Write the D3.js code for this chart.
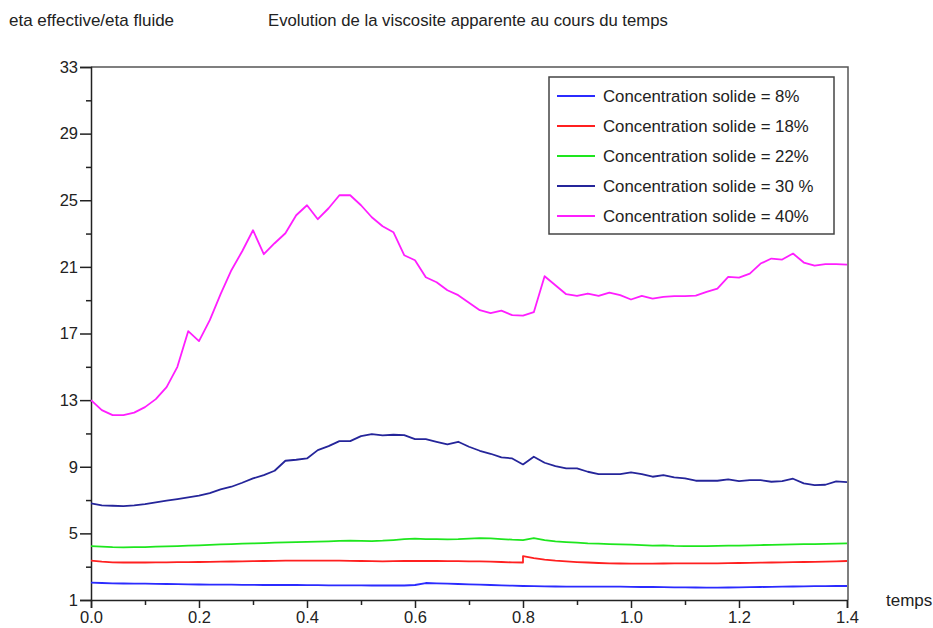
<!DOCTYPE html>
<html>
<head>
<meta charset="utf-8">
<script src="https://cdn.jsdelivr.net/npm/d3@7"></script>
<style>
  html, body { margin: 0; padding: 0; background: #fff; }
  svg text { font-family: "Liberation Sans", Arial, Helvetica, sans-serif; fill: #222; }
</style>
</head>
<body>
<svg id="chart" width="933" height="628"></svg>
<script>
// Time samples (every 0.02 from 0 to 1.4)
const times = d3.range(71).map(i => +(i * 0.02).toFixed(2));

// Apparent viscosity ratio for each solid concentration
const conc8 = [2.04,2.02,2.00,1.99,1.98,1.98,1.97,1.96,1.95,1.94,1.93,1.92,1.92,1.92,1.91,1.91,1.90,1.90,1.90,1.90,1.89,1.89,1.88,1.88,1.88,1.88,1.87,1.87,1.87,1.87,1.90,2.02,2.00,1.98,1.96,1.94,1.92,1.90,1.88,1.86,1.84,1.83,1.82,1.81,1.80,1.80,1.80,1.80,1.80,1.80,1.79,1.78,1.78,1.77,1.76,1.76,1.75,1.74,1.74,1.75,1.76,1.77,1.78,1.79,1.80,1.81,1.82,1.83,1.83,1.84,1.84];

// 18% series has a step at t = 0.8, so 0.8 appears twice in its own time list
const times18 = times.flatMap(t => t === 0.8 ? [t, t] : [t]);
const conc18 = [3.36,3.30,3.26,3.25,3.25,3.25,3.26,3.26,3.27,3.27,3.28,3.29,3.30,3.31,3.32,3.33,3.34,3.35,3.36,3.36,3.36,3.36,3.36,3.36,3.35,3.34,3.33,3.32,3.33,3.34,3.35,3.34,3.34,3.33,3.33,3.32,3.32,3.30,3.28,3.26,3.25,3.64,3.52,3.42,3.36,3.32,3.28,3.25,3.22,3.20,3.19,3.18,3.18,3.18,3.19,3.20,3.20,3.20,3.20,3.20,3.21,3.22,3.23,3.24,3.25,3.26,3.27,3.28,3.29,3.30,3.32,3.34];

const conc22 = [4.24,4.20,4.17,4.16,4.17,4.18,4.20,4.22,4.24,4.26,4.28,4.31,4.34,4.36,4.38,4.40,4.42,4.44,4.46,4.48,4.49,4.50,4.52,4.55,4.56,4.55,4.54,4.56,4.60,4.65,4.68,4.66,4.65,4.64,4.65,4.68,4.72,4.70,4.66,4.62,4.60,4.72,4.60,4.52,4.48,4.44,4.40,4.38,4.36,4.34,4.32,4.30,4.26,4.28,4.25,4.24,4.24,4.24,4.25,4.26,4.27,4.28,4.30,4.31,4.33,4.34,4.35,4.36,4.37,4.38,4.40];

const conc30 = [6.80,6.68,6.66,6.64,6.68,6.76,6.86,6.96,7.06,7.16,7.26,7.42,7.64,7.80,8.04,8.30,8.50,8.76,9.36,9.42,9.50,10.00,10.24,10.54,10.54,10.84,10.96,10.88,10.92,10.90,10.66,10.66,10.50,10.34,10.50,10.20,9.96,9.78,9.56,9.50,9.14,9.60,9.24,9.04,8.90,8.90,8.70,8.56,8.56,8.56,8.66,8.56,8.40,8.50,8.36,8.30,8.16,8.16,8.16,8.24,8.14,8.20,8.20,8.10,8.14,8.28,8.00,7.90,7.92,8.12,8.08];

const conc40 = [13.0,12.4,12.1,12.1,12.25,12.58,13.06,13.78,15.0,17.14,16.54,17.8,19.36,20.8,21.94,23.2,21.76,22.42,23.02,24.1,24.7,23.86,24.52,25.3,25.3,24.7,23.98,23.44,23.08,21.7,21.4,20.38,20.08,19.6,19.3,18.85,18.4,18.22,18.37,18.1,18.07,18.28,20.44,19.9,19.36,19.26,19.4,19.26,19.46,19.3,19.04,19.26,19.1,19.2,19.24,19.24,19.28,19.5,19.7,20.4,20.36,20.6,21.2,21.5,21.44,21.8,21.26,21.08,21.16,21.16,21.14];

const seriesNames = ["Concentration solide = 8%", "Concentration solide = 18%", "Concentration solide = 22%", "Concentration solide = 30 %", "Concentration solide = 40%"];
const seriesColors = ["#2b2bff", "#ff2020", "#1ee61e", "#25259a", "#ff1eff"];
const seriesTimes = [times, times18, times, times, times];
const seriesValues = [conc8, conc18, conc22, conc30, conc40];

const yMajor = [1, 5, 9, 13, 17, 21, 25, 29, 33];
const yMinor = [3, 7, 11, 15, 19, 23, 27, 31];
const xMajor = [0, 0.2, 0.4, 0.6, 0.8, 1.0, 1.2, 1.4];
const xMinor = [0.1, 0.3, 0.5, 0.7, 0.9, 1.1, 1.3];

(function draw() {
  const svg = d3.select("#chart");
  const m = { left: 91, right: 847, top: 67, bottom: 600 };

  const x = d3.scaleLinear().domain([0, 1.4]).range([m.left, m.right]);
  const y = d3.scaleLinear().domain([1, 33]).range([m.bottom, m.top]);

  // Titles
  svg.append("text").attr("x", 9).attr("y", 26).attr("font-size", 17).text("eta effective/eta fluide");
  svg.append("text").attr("x", 268).attr("y", 26).attr("font-size", 16.7).text("Evolution de la viscosite apparente au cours du temps");
  svg.append("text").attr("x", 886).attr("y", 606).attr("font-size", 17).text("temps");

  // Frame (top and right edges)
  svg.append("path")
    .attr("d", `M${m.left},${m.top}H${m.right + 1}V${m.bottom}`)
    .attr("fill", "none").attr("stroke", "#555").attr("stroke-width", 1.5);

  // Y axis
  svg.append("g").attr("transform", `translate(${m.left},0)`)
    .call(d3.axisLeft(y).tickValues(yMajor).tickSize(11).tickPadding(2).tickFormat(d3.format("d")));
  svg.append("g").attr("transform", `translate(${m.left},0)`)
    .call(d3.axisLeft(y).tickValues(yMinor).tickSize(5).tickFormat(""))
    .call(g => g.select(".domain").remove());

  // X axis
  svg.append("g").attr("transform", `translate(0,${m.bottom})`)
    .call(d3.axisBottom(x).tickValues(xMajor).tickSize(8).tickPadding(3).tickFormat(d3.format(".1f")));
  svg.append("g").attr("transform", `translate(0,${m.bottom})`)
    .call(d3.axisBottom(x).tickValues(xMinor).tickSize(5).tickFormat(""))
    .call(g => g.select(".domain").remove());

  svg.selectAll(".domain").attr("stroke", "#222").attr("stroke-width", 1.5);
  svg.selectAll(".tick line").attr("stroke", "#222").attr("stroke-width", 1.5);
  svg.selectAll(".tick text").attr("font-size", 16.5).attr("fill", "#222")
    .attr("font-family", "Liberation Sans, Arial, sans-serif");

  // Series lines
  const line = d3.line().x(d => x(d[0])).y(d => y(d[1]));
  seriesValues.forEach((vals, i) => {
    const pts = vals.map((v, j) => [seriesTimes[i][j], v]);
    svg.append("path").datum(pts)
      .attr("d", line)
      .attr("fill", "none")
      .attr("stroke", seriesColors[i])
      .attr("stroke-width", 1.8)
      .attr("stroke-linejoin", "round");
  });

  // Legend
  const lg = { x: 549, y: 77, w: 285, h: 157 };
  svg.append("rect").attr("x", lg.x).attr("y", lg.y).attr("width", lg.w).attr("height", lg.h)
    .attr("fill", "#fff").attr("stroke", "#444").attr("stroke-width", 1.5);
  const rowY = d3.scalePoint().domain(d3.range(seriesNames.length)).range([96, 216]);
  seriesNames.forEach((name, i) => {
    svg.append("line").attr("x1", 557).attr("x2", 595).attr("y1", rowY(i)).attr("y2", rowY(i))
      .attr("stroke", seriesColors[i]).attr("stroke-width", 1.8);
    svg.append("text").attr("x", 603).attr("y", rowY(i)).attr("dy", "0.35em")
      .attr("font-size", 16.8).text(name);
  });
})();
</script>
</body>
</html>
